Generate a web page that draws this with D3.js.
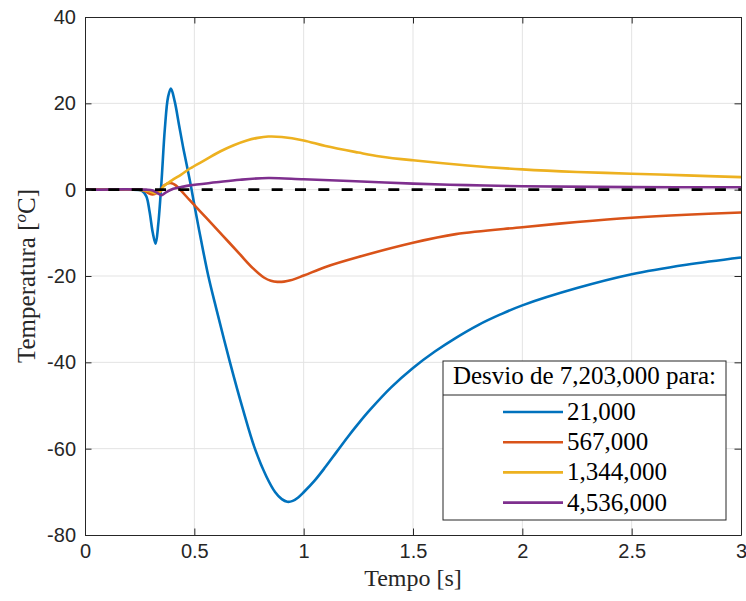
<!DOCTYPE html>
<html>
<head>
<meta charset="utf-8">
<script src="https://cdn.jsdelivr.net/npm/d3@7"></script>
<style>
  body { margin: 0; background: #fff; }
  svg { display: block; }
</style>
</head>
<body>
<div id="chart"></div>
<script>
// Data (time in s, temperature in oC)
const tempo21000 = [0, 0.2, 0.26, 0.28, 0.295, 0.31, 0.323, 0.335, 0.35, 0.365, 0.38, 0.393, 0.41, 0.43, 0.45, 0.48, 0.5, 0.53, 0.564, 0.6, 0.663, 0.72, 0.777, 0.83, 0.87, 0.9, 0.925, 0.95, 0.975, 1.0, 1.05, 1.1, 1.15, 1.2, 1.25, 1.3, 1.4, 1.5, 1.6, 1.7, 1.8, 1.9, 2.0, 2.25, 2.5, 2.75, 3.0];
const temp21000 = [0, 0, -0.3, -1.5, -5, -10, -12.5, -8, 2, 14, 21.5, 23.4, 20.5, 15, 9.5, 2, -3.5, -11.5, -20, -27.5, -40, -50.5, -60, -66.5, -70.1, -71.7, -72.3, -72.1, -71.3, -70.1, -67.4, -64.2, -60.8, -57.4, -54.2, -51.2, -45.8, -41.3, -37.5, -34.2, -31.3, -28.9, -26.8, -22.8, -19.6, -17.4, -15.7];

const tempo567000 = [0, 0.24, 0.27, 0.29, 0.31, 0.33, 0.345, 0.36, 0.375, 0.396, 0.415, 0.435, 0.48, 0.556, 0.633, 0.709, 0.77, 0.82, 0.85, 0.88, 0.91, 0.94, 1.0, 1.1, 1.25, 1.5, 1.696, 2.0, 2.25, 2.5, 2.75, 3.0];
const temp567000 = [0, 0, -0.2, -0.8, -1.1, -0.7, 0, 0.9, 1.4, 1.5, 1.0, 0, -2.5, -6.6, -10.8, -15.0, -18.3, -20.4, -21.1, -21.35, -21.3, -21.0, -19.9, -17.9, -15.6, -12.3, -10.3, -8.7, -7.5, -6.5, -5.8, -5.3];

const tempo1344000 = [0, 0.24, 0.29, 0.32, 0.343, 0.36, 0.396, 0.44, 0.48, 0.55, 0.62, 0.68, 0.74, 0.79, 0.838, 0.9, 1.0, 1.1, 1.25, 1.35, 1.5, 1.75, 2.0, 2.25, 2.5, 2.75, 3.0];
const temp1344000 = [0, 0, -0.3, -0.8, -0.6, 0.8, 2.1, 3.5, 4.9, 6.9, 8.9, 10.3, 11.4, 12.0, 12.3, 12.2, 11.4, 10.1, 8.6, 7.7, 6.8, 5.6, 4.7, 4.1, 3.7, 3.3, 2.9];

const tempo4536000 = [0, 0.28, 0.31, 0.335, 0.35, 0.37, 0.404, 0.44, 0.48, 0.6, 0.709, 0.838, 1.0, 1.21, 1.5, 1.75, 2.0, 2.5, 3.0];
const temp4536000 = [0, 0, -0.2, -0.9, -1.3, -0.6, 0.2, 0.6, 1.0, 1.7, 2.3, 2.7, 2.4, 2.0, 1.4, 1.05, 0.8, 0.6, 0.55];

const seriesNames = ["21,000", "567,000", "1,344,000", "4,536,000"];
const seriesColors = ["#0072BD", "#D95319", "#EDB120", "#7E2F8E"];
const legendTitle = "Desvio de 7,203,000 para:";

const xTicks = [0, 0.5, 1, 1.5, 2, 2.5, 3];
const yTicks = [-80, -60, -40, -20, 0, 20, 40];

const series = [
  { name: seriesNames[0], t: tempo21000, v: temp21000 },
  { name: seriesNames[1], t: tempo567000, v: temp567000 },
  { name: seriesNames[2], t: tempo1344000, v: temp1344000 },
  { name: seriesNames[3], t: tempo4536000, v: temp4536000 }
];

const W = 746, H = 601;
const margin = { top: 17, right: 5, bottom: 66, left: 85 };
const width = W - margin.left - margin.right;
const height = H - margin.top - margin.bottom;

const svg = d3.select("#chart")
  .append("svg")
  .attr("width", W)
  .attr("height", H);

const g = svg.append("g")
  .attr("transform", "translate(" + margin.left + "," + margin.top + ")");

const x = d3.scaleLinear().domain([0, 3]).range([0, width]);
const y = d3.scaleLinear().domain([-80, 40]).range([height, 0]);

// grid
g.selectAll(".gx")
  .data(xTicks.slice(1, -1))
  .enter().append("line")
  .attr("x1", d => x(d)).attr("x2", d => x(d))
  .attr("y1", 0).attr("y2", height)
  .attr("stroke", "#e3e3e3").attr("stroke-width", 1);

g.selectAll(".gy")
  .data(yTicks.slice(1, -1))
  .enter().append("line")
  .attr("x1", 0).attr("x2", width)
  .attr("y1", d => y(d)).attr("y2", d => y(d))
  .attr("stroke", "#e3e3e3").attr("stroke-width", 1);

// lines
const line = d3.line()
  .x(d => x(d[0]))
  .y(d => y(d[1]))
  .curve(d3.curveCatmullRom.alpha(0.5));

series.forEach((s, i) => {
  g.append("path")
    .datum(s.t.map((t, k) => [t, s.v[k]]))
    .attr("fill", "none")
    .attr("stroke", seriesColors[i])
    .attr("stroke-width", 2.6)
    .attr("stroke-linejoin", "round")
    .attr("d", line);
});

// zero reference (dashed)
g.append("path")
  .datum([[0, 0], [3, 0]])
  .attr("fill", "none")
  .attr("stroke", "#000")
  .attr("stroke-width", 2.6)
  .attr("stroke-dasharray", "11,12.33")
  .attr("d", d3.line().x(d => x(d[0])).y(d => y(d[1])));

// axes
const fmt = d => String(d);
const tickFont = "'Liberation Sans', Arial, Helvetica, sans-serif";

const xAxis = g.append("g")
  .attr("transform", "translate(0," + height + ")")
  .call(d3.axisBottom(x).tickValues(xTicks).tickFormat(fmt).tickSizeInner(-6.5).tickSizeOuter(0).tickPadding(9));

const yAxis = g.append("g")
  .call(d3.axisLeft(y).tickValues(yTicks).tickFormat(fmt).tickSizeInner(-6.5).tickSizeOuter(0).tickPadding(9));

const xTop = g.append("g")
  .call(d3.axisTop(x).tickValues(xTicks).tickFormat("").tickSizeInner(-6.5).tickSizeOuter(0));

const yRight = g.append("g")
  .attr("transform", "translate(" + width + ",0)")
  .call(d3.axisRight(y).tickValues(yTicks).tickFormat("").tickSizeInner(-6.5).tickSizeOuter(0));

[xAxis, yAxis, xTop, yRight].forEach(a => {
  a.selectAll(".domain").attr("stroke", "#262626").attr("stroke-width", 1);
  a.selectAll(".tick line").attr("stroke", "#262626").attr("stroke-width", 1);
  a.selectAll(".tick text")
    .attr("fill", "#262626")
    .style("font-family", tickFont)
    .style("font-size", "20px");
});

// axis labels
const serif = "'Liberation Serif', 'Times New Roman', serif";

svg.append("text")
  .attr("x", margin.left + width / 2)
  .attr("y", 586)
  .attr("text-anchor", "middle")
  .style("font-family", serif)
  .style("font-size", "24px")
  .attr("fill", "#262626")
  .text("Tempo [s]");

const yLab = svg.append("text")
  .attr("transform", "translate(35," + (margin.top + height / 2) + ") rotate(-90)")
  .attr("text-anchor", "middle")
  .style("font-family", serif)
  .style("font-size", "25px")
  .attr("fill", "#262626");
yLab.append("tspan").text("Temperatura [");
yLab.append("tspan").attr("dy", -9).style("font-size", "17px").style("font-style", "italic").text("o");
yLab.append("tspan").attr("dy", 9).text("C]");

// legend
const lg = svg.append("g");
const lx = 443, ly = 361, lw = 283, lh = 159;

lg.append("rect")
  .attr("x", lx).attr("y", ly)
  .attr("width", lw).attr("height", lh)
  .attr("fill", "#fff")
  .attr("stroke", "#262626")
  .attr("stroke-width", 1);

lg.append("line")
  .attr("x1", lx).attr("x2", lx + lw)
  .attr("y1", ly + 34).attr("y2", ly + 34)
  .attr("stroke", "#262626").attr("stroke-width", 1);

lg.append("text")
  .attr("x", lx + lw / 2)
  .attr("y", ly + 23)
  .attr("text-anchor", "middle")
  .style("font-family", serif)
  .style("font-size", "25px")
  .attr("fill", "#000")
  .text(legendTitle);

const rows = lg.selectAll(".row")
  .data(series)
  .enter().append("g")
  .attr("transform", (d, i) => "translate(0," + (ly + 51 + i * 30.2) + ")");

rows.append("line")
  .attr("x1", 503).attr("x2", 563)
  .attr("y1", 0).attr("y2", 0)
  .attr("stroke", (d, i) => seriesColors[i])
  .attr("stroke-width", 2.6);

rows.append("text")
  .attr("x", 567)
  .attr("y", 8)
  .style("font-family", serif)
  .style("font-size", "25px")
  .attr("fill", "#000")
  .text(d => d.name);
</script>
</body>
</html>
